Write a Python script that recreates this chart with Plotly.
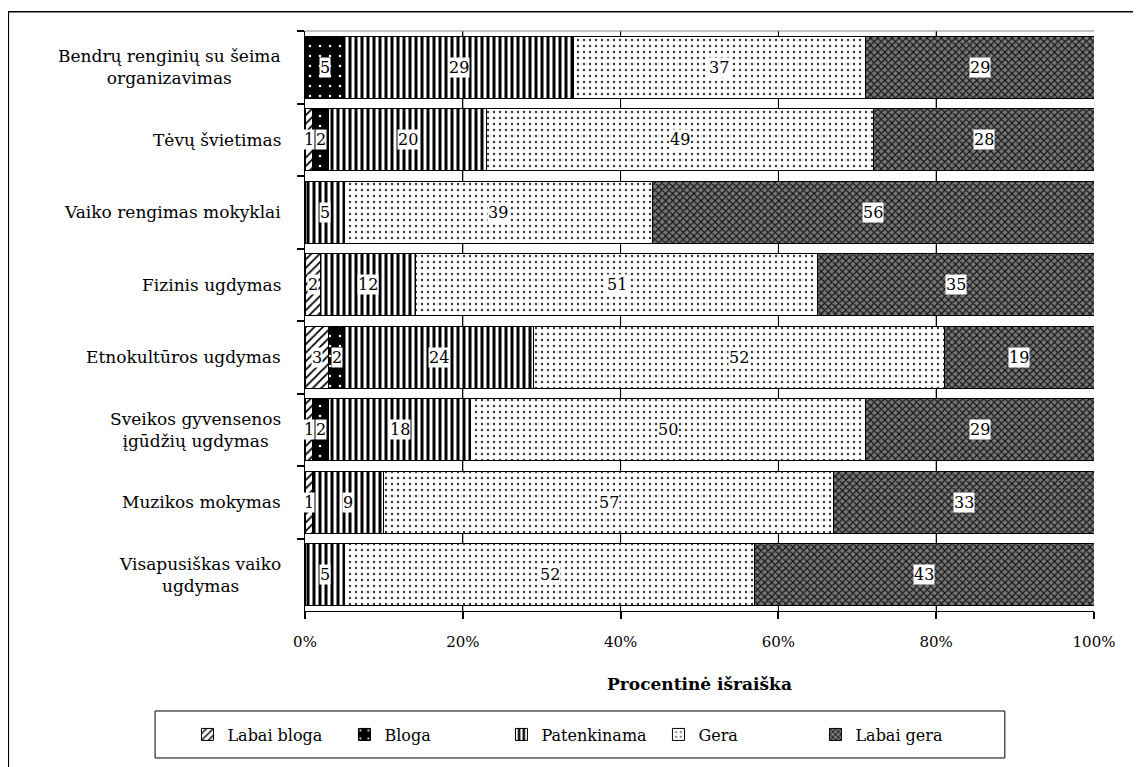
import plotly.graph_objects as go

categories = [
    "Bendrų renginių su šeima<br>organizavimas",
    "Tėvų švietimas",
    "Vaiko rengimas mokyklai",
    "Fizinis ugdymas",
    "Etnokultūros ugdymas",
    "Sveikos gyvensenos<br>įgūdžių ugdymas",
    "Muzikos mokymas",
    "Visapusiškas vaiko<br>ugdymas",
]
series_names = ["Labai bloga", "Bloga", "Patenkinama", "Gera", "Labai gera"]
labai_bloga = [0, 1, 0, 2, 3, 1, 1, 0]
bloga = [5, 2, 0, 0, 2, 2, 0, 0]
patenkinama = [29, 20, 5, 12, 24, 18, 9, 5]
gera = [37, 49, 39, 51, 52, 50, 57, 52]
labai_gera = [29, 28, 56, 35, 19, 29, 33, 43]
x_ticks = [0, 20, 40, 60, 80, 100]
x_tick_labels = ["0%", "20%", "40%", "60%", "80%", "100%"]

series_values = [labai_bloga, bloga, patenkinama, gera, labai_gera]
patterns = [
    dict(shape="/", fgcolor="black", bgcolor="white", size=6, solidity=0.3, fillmode="replace"),
    dict(shape=".", fgcolor="white", bgcolor="black", size=10, solidity=0.05, fillmode="replace"),
    dict(shape="|", fgcolor="black", bgcolor="white", size=6, solidity=0.5, fillmode="replace"),
    dict(shape=".", fgcolor="#333", bgcolor="white", size=6, solidity=0.12, fillmode="replace"),
    dict(shape="x", fgcolor="#111", bgcolor="#777", size=5, solidity=0.4, fillmode="replace"),
]

FONT = "DejaVu Serif"
fig = go.Figure()
for name, vals, pat in zip(series_names, series_values, patterns):
    fig.add_trace(go.Bar(
        y=categories, x=vals, name=name, orientation="h",
        marker=dict(color="white", pattern=pat, line=dict(color="black", width=1)),
        hoverinfo="x+y+name",
    ))

annotations = []
for i, cat in enumerate(categories):
    cum = 0
    for vals in series_values:
        v = vals[i]
        if v > 0:
            annotations.append(dict(
                x=cum + v / 2, y=cat, xref="x", yref="y", text=str(v),
                showarrow=False, bgcolor="white", borderpad=0,
                font=dict(family=FONT, size=16, color="black"),
            ))
        cum += v
for cat in categories:
    annotations.append(dict(
        x=0, y=cat, xref="paper", yref="y", text=cat, xanchor="right",
        xshift=-22, align="center", showarrow=False,
        font=dict(family=FONT, size=17, color="black"),
    ))

grid_shapes = [
    dict(type="line", xref="x", yref="paper", x0=t, x1=t, y0=0, y1=1,
         line=dict(color="black", width=1), layer="below")
    for t in x_ticks[1:-1]
]

fig.update_layout(
    width=1133, height=759,
    margin=dict(l=297, r=47, t=23, b=156),
    paper_bgcolor="white", plot_bgcolor="white",
    barmode="stack", bargap=0.145,
    font=dict(family=FONT, size=16, color="black"),
    annotations=annotations,
    showlegend=True,
    legend=dict(
        orientation="h", x=0.3485, xanchor="center", y=-0.213, yanchor="middle",
        borderwidth=0, bgcolor="rgba(0,0,0,0)",
        font=dict(family=FONT, size=16), traceorder="normal",
        itemwidth=30, entrywidth=112, entrywidthmode="pixels",
    ),
    xaxis=dict(
        range=[0, 100], tickmode="array", tickvals=x_ticks, ticktext=x_tick_labels,
        showgrid=True, gridcolor="black", gridwidth=1,
        showline=True, linecolor="black", linewidth=1,
        ticks="outside", ticklen=7, tickwidth=1.5, tickcolor="black", ticklabelstandoff=10,
        zeroline=False, automargin=False,
        title=dict(text="<b>Procentinė išraiška</b>", font=dict(family=FONT, size=17), standoff=28),
        tickfont=dict(family=FONT, size=15),
    ),
    yaxis=dict(
        autorange="reversed", showticklabels=False, automargin=False,
        showline=True, linecolor="black", linewidth=1,
        ticks="outside", ticklen=7, tickwidth=1.5, tickcolor="black", tickson="boundaries",
        showgrid=False,
    ),
    shapes=grid_shapes + [
        dict(type="rect", xref="paper", yref="paper", x0=-0.376, x1=1.051, y0=-0.32, y1=1.033,
             line=dict(color="black", width=1.5), fillcolor="rgba(0,0,0,0)", layer="below"),
        dict(type="rect", xref="paper", yref="paper", x0=-0.190, x1=0.887, y0=-0.2534, y1=-0.1724,
             line=dict(color="black", width=1), fillcolor="rgba(0,0,0,0)", layer="below"),
        dict(type="line", xref="paper", yref="paper", x0=0, x1=1, y0=1, y1=1,
             line=dict(color="#888", width=1)),
    ],
)

fig.write_html("out.html")
